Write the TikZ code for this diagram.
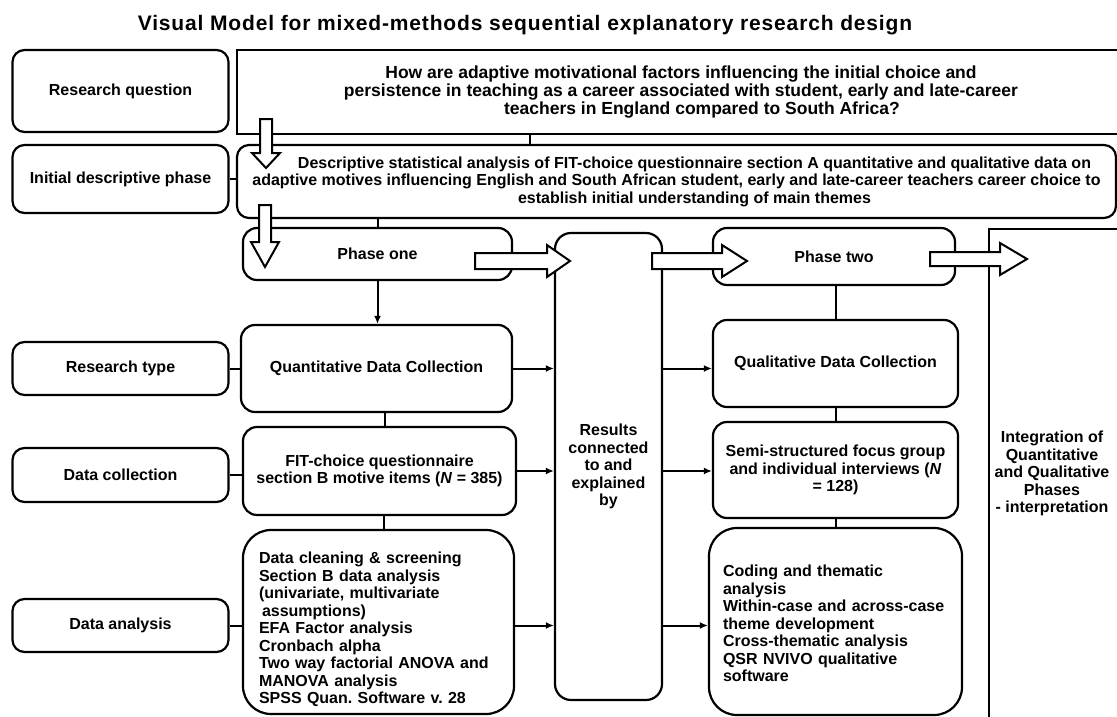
\documentclass[tikz,border=0pt]{standalone}
\usepackage{fontspec}
\setmainfont{Liberation Sans}
\newfontfamily\titlefont[LetterSpace=4]{Liberation Sans}
\frenchspacing
\usetikzlibrary{positioning,calc,arrows.meta}

\begin{document}
\begin{tikzpicture}[
    x=1pt, y=-1pt,
    lblbox/.style={draw, rounded corners=12pt, line width=2.2pt, align=center, inner sep=0pt, font=\bfseries\fontsize{16}{17.5}\selectfont},
    stagebox/.style={lblbox, rounded corners=14pt},
    listbox/.style={lblbox, rounded corners=28pt, align=left},
    conn/.style={line width=2pt},
    arr/.style={conn, -{Latex[length=8pt,width=7pt]}},
    hollow/.style={draw, fill=white, line width=2pt, line join=miter}
]
    \useasboundingbox (0,0) rectangle (1117,717);
    \clip (0,0) rectangle (1117,717);

    \node[font=\titlefont\bfseries\fontsize{21}{25}\selectfont] (title) at (525,25) {Visual Model for mixed-methods sequential explanatory research design};

    % left column labels
    \node[lblbox, minimum width=216pt, minimum height=82pt] (rq) at (120.5,91) {Research question};
    \node[lblbox, minimum width=216pt, minimum height=68pt] (idp) at (120.5,179) {Initial descriptive phase};
    \node[lblbox, minimum width=216pt, minimum height=53pt] (rt) at (120.5,368.5) {Research type};
    \node[lblbox, minimum width=216pt, minimum height=54pt] (dc) at (120.5,475) {Data collection};
    \node[lblbox, minimum width=216pt, minimum height=53pt] (da) at (120.5,625.5) {Data analysis};

    % wide boxes on top
    \node[lblbox, sharp corners, line width=2.6pt, minimum width=888pt, minimum height=84pt, font=\bfseries\fontsize{17.5}{18}\selectfont] (qbox) at (681,92) {How are adaptive motivational factors influencing the initial choice and\\persistence in teaching as a career associated with student, early and late-career\\\hspace*{42pt}teachers in England compared to South Africa?};
    \node[lblbox, minimum width=879pt, minimum height=73pt, font=\bfseries\fontsize{16}{17.5}\selectfont] (desc) at (676.5,181.5) {\hspace*{36pt}Descriptive statistical analysis of FIT-choice questionnaire section A quantitative and qualitative data on\\adaptive motives influencing English and South African student, early and late-career teachers career choice to\\\hspace*{36pt}establish initial understanding of main themes};

    % phase one column
    \node[stagebox, minimum width=269pt, minimum height=52pt] (phone) at (377.5,254) {Phase one};
    \node[stagebox, minimum width=271pt, minimum height=87pt] (quant) at (376.5,368.5) {Quantitative Data Collection};
    \node[stagebox, minimum width=273pt, minimum height=88pt] (fit) at (379.5,471) {FIT-choice questionnaire\\section B motive items (\textit{N} = 385)};
    \node[listbox, minimum width=271pt, minimum height=184pt, text width=239pt] (ana) at (378.5,622) {\rule{0pt}{27pt}Data cleaning \& screening\\Section B data analysis\\(univariate, multivariate\\\hspace*{3pt}assumptions)\\EFA Factor analysis\\Cronbach alpha\\Two way factorial ANOVA and\\MANOVA analysis\\SPSS Quan. Software v. 28};

    % middle
    \node[stagebox, rounded corners=16pt, minimum width=107pt, minimum height=467pt] (res) at (608.5,466.5) {Results\\connected\\to and\\explained\\by};

    % phase two column
    \node[stagebox, minimum width=242pt, minimum height=57pt] (phtwo) at (834,256.5) {Phase two};
    \node[stagebox, minimum width=245pt, minimum height=87pt] (qual) at (835.5,363.5) {Qualitative Data Collection};
    \node[stagebox, minimum width=245pt, minimum height=96pt] (semi) at (835.5,470) {Semi-structured focus group\\and individual interviews (\textit{N}\\= 128)};
    \node[listbox, minimum width=253pt, minimum height=187pt, text width=225pt] (cod) at (835.5,621.5) {\rule{0pt}{16pt}Coding and thematic\\analysis\\Within-case and across-case\\theme development\\Cross-thematic analysis\\QSR NVIVO qualitative\\software};

    % integration
    \node[draw, line width=2.2pt, inner sep=0pt, minimum width=170pt, minimum height=520pt, anchor=north west] (intbox) at (988,228) {};
    \node[font=\bfseries\fontsize{16}{17.5}\selectfont, align=center] (inttxt) at (1052,473.5) {Integration of\\Quantitative\\and Qualitative\\Phases\\- interpretation};

    % connectors
    \draw[conn] (idp.east) -- (idp.east -| desc.west);
    \draw[conn] ([xshift=-146.5pt]desc.north) -- ([xshift=-146.5pt]desc.north |- qbox.south);
    \draw[conn] (phone.north) -- (phone.north |- desc.south);
    \draw[arr] (phone.south) -- (phone.south |- quant.north);
    \draw[conn] ([xshift=5pt]fit.north) -- ([xshift=5pt]fit.north |- quant.south);
    \draw[conn] ([xshift=5pt]ana.north) -- ([xshift=5pt]ana.north |- fit.south);
    \draw[conn] (rt.east) -- (rt.east -| quant.west);
    \draw[conn] (dc.east) -- (dc.east -| fit.west);
    \draw[conn] (da.east) -- (da.east -| ana.west);
    \draw[arr] (quant.east) -- (quant.east -| res.west);
    \draw[arr] (fit.east) -- (fit.east -| res.west);
    \draw[arr] (ana.east |- da.east) -- (da.east -| res.west);
    \draw[arr] (res.east |- quant.east) -- (quant.east -| qual.west);
    \draw[arr] (res.east |- fit.east) -- (fit.east -| semi.west);
    \draw[arr] (res.east |- da.east) -- (da.east -| cod.west);
    \draw[conn] (qual.north) -- (qual.north |- phtwo.south);
    \draw[conn] (semi.north) -- (semi.north |- qual.south);
    \draw[conn] (cod.north) -- (cod.north |- semi.south);

    % hollow block arrows
    \draw[hollow] (260,119) -- (272,119) -- (272,153) -- (280,153) -- (266,168) -- (252,153) -- (260,153) -- cycle;
    \draw[hollow] (259,205) -- (271,205) -- (271,242) -- (279,242) -- (265,267) -- (251,242) -- (259,242) -- cycle;
    \draw[hollow] (475,253) -- (547,253) -- (547,245) -- (570,261) -- (547,277) -- (547,269) -- (475,269) -- cycle;
    \draw[hollow] (652,253) -- (722,253) -- (722,245) -- (747,261) -- (722,277) -- (722,269) -- (652,269) -- cycle;
    \draw[hollow] (930,252) -- (1000,252) -- (1000,243) -- (1027,259) -- (1000,275) -- (1000,266) -- (930,266) -- cycle;
\end{tikzpicture}
\end{document}
